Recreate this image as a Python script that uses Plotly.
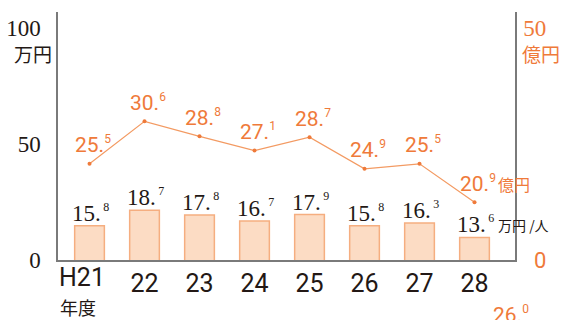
import plotly.graph_objects as go

years = ["H21", "22", "23", "24", "25", "26", "27", "28"]
per_person = [15.8, 18.7, 17.8, 16.7, 17.9, 15.8, 16.3, 13.6]   # 万円/人 (bars)
total = [25.5, 30.6, 28.8, 27.1, 28.7, 24.9, 25.5, 20.9]        # 億円 (line)
left_ticks = [0, 50, 100]
right_ticks = [50]
extra_label = 26.0

ORANGE = "#EF7A3A"
LINE = "#F39A62"
BLACK = "#231815"
AXIS = "#7a7a7a"
SERIF = "Liberation Serif"
SANS = "Roboto"
CJK = "Noto Sans CJK JP"

W, H = 570, 320
ML, MR, MT, MB = 58, 55, 12, 60
PW, PH = W - ML - MR, H - MT - MB


def fmt(v, size, gap=""):
    a, b = f"{v:.1f}".split(".")
    return f"{a}.<sup><span style='font-size:{size}px'>{gap}{b}</span></sup>"


def px_x(p):
    return (p - ML) / PW


def px_y(p):
    return (H - MB - p) / PH


idx = list(range(len(years)))

fig = go.Figure()

# bars on base y axis (hidden scale)
fig.add_trace(go.Bar(
    x=years, y=per_person,
    width=0.54,
    marker=dict(color="#FCDCC4", line=dict(color="#F5AE80", width=1.5)),
    showlegend=False, hoverinfo="skip",
))

# visible left axis
fig.add_trace(go.Scatter(x=[], y=[], yaxis="y2", showlegend=False))
# visible right axis
fig.add_trace(go.Scatter(x=[], y=[], yaxis="y3", showlegend=False))

fig.add_trace(go.Scatter(
    x=years, y=total, yaxis="y4", mode="lines+markers",
    line=dict(color=LINE, width=1.2),
    marker=dict(color=ORANGE, size=4),
    showlegend=False, hoverinfo="skip", cliponaxis=False,
))

ann = []
for i, v in zip(idx, per_person):
    ann.append(dict(
        x=i, y=v, xref="x", yref="y", text=fmt(v, 12, "\u2009"),
        showarrow=False, yanchor="bottom", xshift=1, yshift=-2,
        font=dict(family=SERIF, size=23, color=BLACK),
    ))
for i, v in zip(idx, total):
    ann.append(dict(
        x=i, y=v, xref="x", yref="y4", text=fmt(v, 12),
        showarrow=False, xshift=3, yshift=19,
        font=dict(family=SANS, size=21, color=ORANGE),
    ))
ann.append(dict(
    x=idx[-1], y=total[-1], xref="x", yref="y4", text="億円",
    showarrow=False, xanchor="left", xshift=21, yshift=18,
    font=dict(family=CJK, size=16, color=ORANGE),
))
ann.append(dict(
    x=idx[-1], y=per_person[-1], xref="x", yref="y", text="万円 /人",
    showarrow=False, xanchor="left", yanchor="bottom", xshift=21, yshift=0,
    font=dict(family=CJK, size=14, color=BLACK),
))
ann.append(dict(
    x=px_x(54), y=px_y(38), xref="paper", yref="paper", text="万円",
    showarrow=False, xanchor="right", yanchor="top",
    font=dict(family=CJK, size=19, color=BLACK),
))
ann.append(dict(
    x=px_x(520), y=px_y(38), xref="paper", yref="paper", text="億円",
    showarrow=False, xanchor="left", yanchor="top",
    font=dict(family=CJK, size=19, color=ORANGE),
))
ann.append(dict(
    x=px_x(548), y=px_y(260), xref="paper", yref="paper", text="0",
    showarrow=False, xanchor="right", yanchor="middle",
    font=dict(family=SANS, size=22, color=ORANGE),
))
ann.append(dict(
    x=px_x(57), y=px_y(277), xref="paper", yref="paper", text=years[0],
    showarrow=False, xanchor="left", yanchor="middle",
    font=dict(family=SANS, size=25, color=BLACK),
))
ann.append(dict(
    x=px_x(58), y=px_y(307), xref="paper", yref="paper", text="年度",
    showarrow=False, xanchor="left", yanchor="middle",
    font=dict(family=CJK, size=18, color=BLACK),
))
ann.append(dict(
    x=px_x(491), y=px_y(300), xref="paper", yref="paper", text=fmt(extra_label, 12),
    showarrow=False, xanchor="left", yanchor="top",
    font=dict(family=SANS, size=21, color=ORANGE),
))

left_max = PH / 2.32

fig.update_layout(
    width=W, height=H,
    margin=dict(l=ML, r=MR, t=MT, b=MB, pad=0, autoexpand=False),
    paper_bgcolor="white", plot_bgcolor="white",
    xaxis=dict(
        type="category", range=[-0.573, 7.736], autorange=False,
        tickvals=years[1:], ticktext=years[1:],
        showline=True, linecolor=AXIS, linewidth=1.5,
        showgrid=False, zeroline=False, ticks="",
        tickfont=dict(family=SANS, size=25, color=BLACK),
        automargin=False,
    ),
    yaxis=dict(range=[9.37, 9.37 + PH / 5.33], visible=False, automargin=False),
    yaxis2=dict(
        overlaying="y", side="left", range=[0, left_max], tickvals=left_ticks,
        ticktext=[str(t) for t in left_ticks],
        showline=True, linecolor=AXIS, linewidth=1.5,
        showgrid=False, zeroline=False, ticks="",
        ticklabelstandoff=11, automargin=False,
        tickfont=dict(family=SERIF, size=23, color=BLACK),
    ),
    yaxis3=dict(
        overlaying="y", side="right", range=[0, left_max / 2],
        tickvals=right_ticks, ticktext=[str(t) for t in right_ticks],
        showline=True, linecolor=AXIS, linewidth=1.5,
        showgrid=False, zeroline=False, ticks="",
        ticklabelstandoff=2, automargin=False,
        tickfont=dict(family=SERIF, size=23, color=ORANGE),
    ),
    yaxis4=dict(overlaying="y", range=[13.955, 43.73], visible=False, automargin=False),
    annotations=ann,
)

fig.write_html("out.html")
